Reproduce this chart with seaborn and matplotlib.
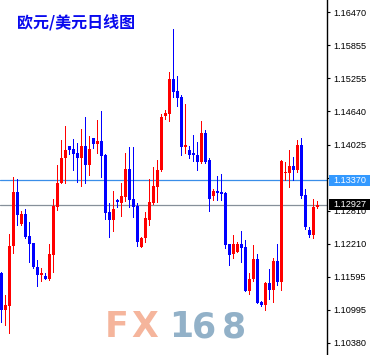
import numpy as np
import pandas as pd
import seaborn as sns
import matplotlib
matplotlib.use("Agg")
import matplotlib.pyplot as plt
from matplotlib.patches import Rectangle
import matplotlib.transforms as mtransforms

# ---------------- data (EUR/USD daily candles) ----------------
opens = [
    1.11668, 1.10987, 1.11061, 1.12165, 1.13158, 1.12569, 1.12753, 1.12349, 1.12211, 1.11769,
    1.11631, 1.11613, 1.11557, 1.11999, 1.12882, 1.13324, 1.13775, 1.14005, 1.13949, 1.13876,
    1.13784, 1.14005, 1.13655, 1.14152, 1.14041, 1.14097, 1.13839, 1.12790, 1.12643, 1.13002,
    1.12956, 1.13066, 1.13581, 1.13029, 1.12901, 1.12155, 1.12312, 1.12643, 1.12947, 1.13259,
    1.13563, 1.14557, 1.14593, 1.15237, 1.15017, 1.14915, 1.13986, 1.13931, 1.13867, 1.13839,
    1.13710, 1.14244, 1.13747, 1.13085, 1.13177, 1.13158, 1.13140, 1.12201, 1.12017, 1.12063,
    1.12201, 1.12146, 1.11337, 1.11557, 1.11925, 1.11143, 1.11079, 1.11484, 1.11346, 1.11889,
    1.11502, 1.13499, 1.13499, 1.13637, 1.13554, 1.14023, 1.13103, 1.12459, 1.12367, 1.12882,
]
highs = [
    1.11680, 1.11263, 1.12385, 1.13434, 1.13397, 1.12809, 1.12845, 1.12606, 1.12220, 1.11898,
    1.11760, 1.11668, 1.12201, 1.13029, 1.13655, 1.14115, 1.14373, 1.14010, 1.14133, 1.14060,
    1.14317, 1.14538, 1.14189, 1.14160, 1.14483, 1.14649, 1.13850, 1.12956, 1.13177, 1.13029,
    1.13324, 1.13876, 1.13986, 1.13986, 1.12956, 1.12330, 1.12790, 1.13397, 1.13618, 1.13747,
    1.14593, 1.14667, 1.15366, 1.16157, 1.15293, 1.14943, 1.14777, 1.14005, 1.14207, 1.14078,
    1.14465, 1.14299, 1.13784, 1.13213, 1.13453, 1.13489, 1.13158, 1.12210, 1.12367, 1.12238,
    1.12441, 1.12275, 1.11668, 1.12183, 1.12017, 1.11153, 1.11502, 1.11741, 1.11944, 1.12201,
    1.13747, 1.13701, 1.13931, 1.13802, 1.14115, 1.14152, 1.13213, 1.12514, 1.13029, 1.12993,
]
lows = [
    1.10766, 1.10711, 1.10564, 1.12036, 1.12551, 1.12551, 1.12312, 1.11870, 1.11760, 1.11429,
    1.11521, 1.11550, 1.11530, 1.11686, 1.12827, 1.13315, 1.13333, 1.13857, 1.13563, 1.13342,
    1.13269, 1.13324, 1.13471, 1.13968, 1.13876, 1.13434, 1.12661, 1.12339, 1.12441, 1.12891,
    1.12717, 1.12993, 1.12882, 1.12698, 1.12165, 1.12150, 1.12238, 1.12551, 1.12937, 1.12965,
    1.13550, 1.14501, 1.14465, 1.14906, 1.14741, 1.13839, 1.13885, 1.13784, 1.13729, 1.13563,
    1.13700, 1.13692, 1.12809, 1.13011, 1.13011, 1.13011, 1.12128, 1.11815, 1.11944, 1.12054,
    1.11870, 1.11330, 1.11281, 1.11521, 1.11110, 1.11061, 1.10978, 1.11189, 1.11134, 1.11447,
    1.11355, 1.13379, 1.13259, 1.13379, 1.13517, 1.13048, 1.12477, 1.12330, 1.12312, 1.12864,
]
closes = [
    1.10987, 1.11079, 1.12165, 1.13158, 1.12744, 1.12753, 1.12339, 1.12201, 1.11769, 1.11631,
    1.11668, 1.11557, 1.12017, 1.12901, 1.13324, 1.13784, 1.13931, 1.13931, 1.13857, 1.13784,
    1.14005, 1.13655, 1.13949, 1.14041, 1.14097, 1.13821, 1.12781, 1.12643, 1.12845, 1.12974,
    1.13085, 1.13581, 1.13011, 1.12891, 1.12247, 1.12312, 1.12671, 1.12974, 1.13269, 1.13572,
    1.14538, 1.14612, 1.15237, 1.14998, 1.14888, 1.13986, 1.14023, 1.13839, 1.13830, 1.13710,
    1.14244, 1.13710, 1.13029, 1.13177, 1.13140, 1.13121, 1.12183, 1.11999, 1.12201, 1.12201,
    1.12128, 1.11337, 1.11557, 1.11925, 1.11116, 1.11079, 1.11484, 1.11346, 1.11889, 1.11502,
    1.13729, 1.13517, 1.13637, 1.13554, 1.14023, 1.13085, 1.12514, 1.12367, 1.12882, 1.12927,
]
ytick_values = [1.16470, 1.15855, 1.15255, 1.14640, 1.14025, 1.13415,
                1.12810, 1.12210, 1.11595, 1.10995, 1.10380]
level_blue = 1.13370
level_last = 1.12927
title_text = "欧元/美元日线图"
watermark_chars = ["F", "X", "1", "6", "8"]

# ---------------- style ----------------
sns.set_theme(style="white")
plt.rcParams["font.family"] = ["Liberation Sans", "DejaVu Sans"]

W, H = 370, 355
fig = plt.figure(figsize=(W / 100, H / 100), dpi=100)
fig.patch.set_facecolor("white")
ax = fig.add_axes([0, 0, 327 / W, 1])
ax.set_facecolor("white")

df = pd.DataFrame({"open": opens, "high": highs, "low": lows, "close": closes})
df["x"] = np.arange(len(df))
df["up"] = df["close"] >= df["open"]
df["color"] = np.where(df["up"], "#ff0000", "#0000ff")
min_h = 0.00019
df["bottom"] = df[["open", "close"]].min(axis=1)
df["height"] = (df["close"] - df["open"]).abs().clip(lower=min_h)

# wicks (1 px)
ax.vlines(df["x"].to_numpy(), df["low"].to_numpy(), df["high"].to_numpy(),
          colors=list(df["color"]), linewidth=0.72, antialiased=False, zorder=2)
# bodies
ax.bar(df["x"].to_numpy(), df["height"].to_numpy(), bottom=df["bottom"].to_numpy(),
       width=0.72, color=list(df["color"]), edgecolor="none", linewidth=0,
       antialiased=False, zorder=3)

# horizontal levels
ax.axhline(level_blue, color="#3a8ee8", linewidth=0.9, zorder=1)
ax.axhline(level_last, color="#86909a", linewidth=0.9, zorder=1)

ax.set_xlim(-0.325, 81.4)
ax.set_ylim(1.10159, 1.16691)

# axis styling: only right spine
for s in ["left", "top", "bottom"]:
    ax.spines[s].set_visible(False)
ax.spines["right"].set_color("black")
ax.spines["right"].set_linewidth(1.0)
ax.set_xticks([])
ax.yaxis.tick_right()
ax.set_yticks(ytick_values)
ax.set_yticklabels([f"{v:.5f}" for v in ytick_values])
ax.tick_params(axis="y", direction="out", length=2.5, width=0.8, pad=2.2,
               labelsize=6.6, colors="black", right=True, left=False)
ax.grid(False)

# price boxes on the axis
trans = mtransforms.blended_transform_factory(fig.transFigure, ax.transData)
box_h = 0.00215
for val, fc in [(level_blue, "#3399ff"), (level_last, "#000000")]:
    r = Rectangle((329 / W, val - box_h / 2), (W - 329) / W, box_h, transform=trans,
                  facecolor=fc, edgecolor="none", clip_on=False, zorder=10)
    ax.add_patch(r)
    ax.text(333 / W, val, f"{val:.5f}", transform=trans, color="white", fontsize=6.6,
            ha="left", va="center", clip_on=False, zorder=11)

# title
fig.text(17 / W, 1 - 22 / H, title_text, color="#0a0aee", fontsize=11.5, fontweight="bold",
         family=["Noto Sans CJK SC", "DejaVu Sans"], ha="left", va="center")

# watermark
wm_x = [117, 145, 181, 204, 234]
wm_col = ["#f5b59c", "#f5b59c", "#92b1c8", "#92b1c8", "#92b1c8"]
for ch, xx, cc in zip(watermark_chars, wm_x, wm_col):
    fig.text(xx / W, 1 - 337 / H, ch, color=cc, fontsize=25, fontweight="heavy",
             family="DejaVu Sans", ha="center", va="baseline", zorder=0)

fig.savefig("out.png", dpi=100)
